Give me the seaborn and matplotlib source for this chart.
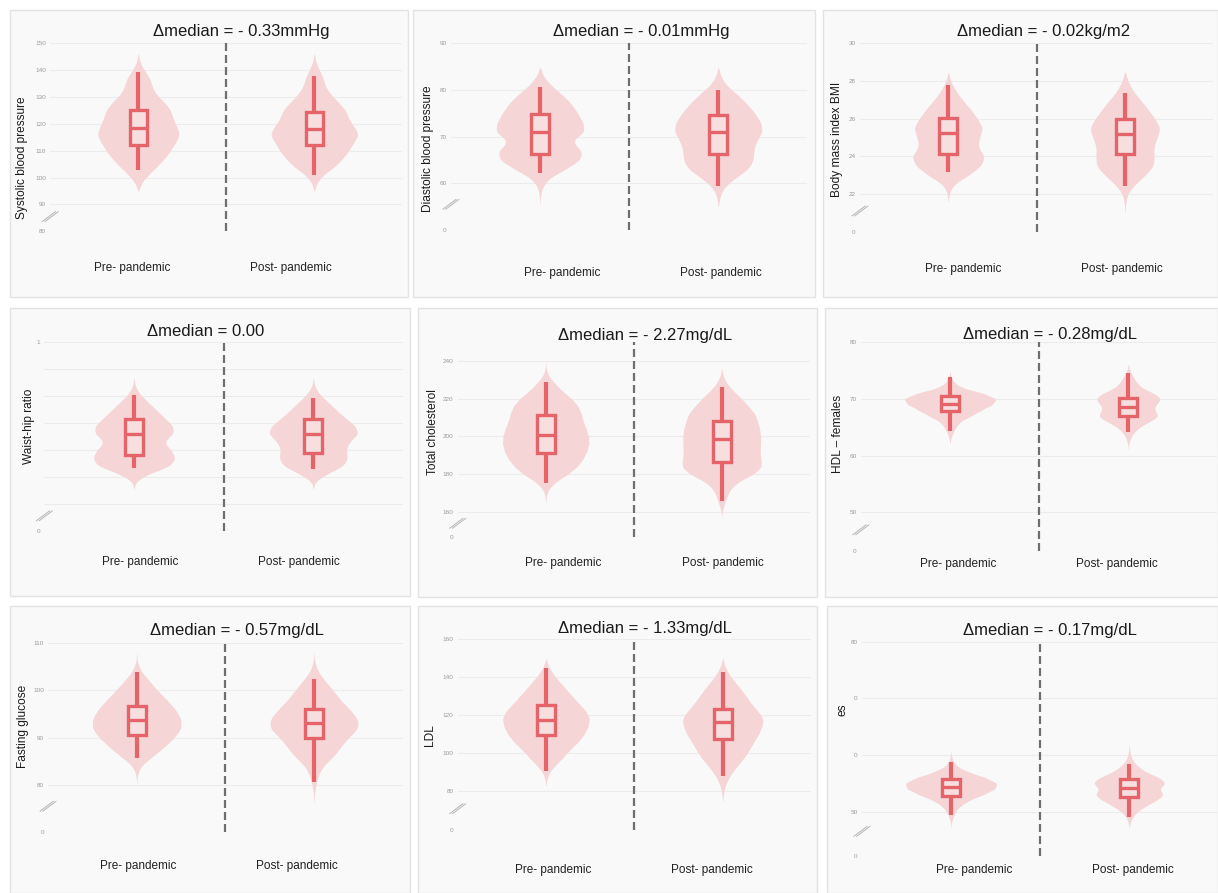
import numpy as np
import pandas as pd
import matplotlib
matplotlib.use("Agg")
import matplotlib.pyplot as plt
import seaborn as sns
from matplotlib.patches import Rectangle
from matplotlib.lines import Line2D

# Categories
groups = ["Pre- pandemic", "Post- pandemic"]

# Systolic blood pressure: value levels and estimated counts per level
sbp_levels = [98, 101, 104, 107, 110, 113, 116, 119, 122, 125, 128, 131, 134, 137, 140, 143]
sbp_pre = [8, 28, 52, 75, 92, 106, 120, 110, 98, 94, 75, 50, 38, 34, 16, 4]
sbp_post = [6, 24, 58, 80, 98, 110, 128, 112, 96, 90, 68, 46, 30, 26, 14, 4]
# box stats: whisker low, q1, median, q3, whisker high
sbp_pre_box = [102.9, 112.2, 118.4, 125.2, 139.5]
sbp_post_box = [100.8, 112.2, 118.2, 124.3, 137.9]

# Diastolic blood pressure
dbp_levels = [57, 59, 61, 63, 65, 67, 69, 71, 73, 75, 77, 79, 81, 83]
dbp_pre = [1, 5, 22, 70, 114, 118, 84, 126, 120, 105, 88, 62, 30, 8]
dbp_post = [4, 14, 45, 86, 100, 100, 108, 126, 122, 104, 82, 55, 22, 6]
dbp_pre_box = [62.2, 66.3, 71.0, 74.8, 80.7]
dbp_post_box = [59.4, 66.2, 71.0, 74.6, 80.0]

# Body mass index
bmi_levels = [21.5, 22.0, 22.5, 23.0, 23.5, 24.0, 24.5, 25.0, 25.5, 26.0, 26.5, 27.0, 27.5, 28.0]
bmi_pre = [0, 2, 14, 62, 100, 112, 88, 94, 106, 88, 68, 42, 22, 6]
bmi_post = [2, 6, 28, 60, 86, 86, 84, 95, 106, 88, 68, 45, 22, 8]
bmi_pre_box = [23.16, 24.13, 25.26, 26.02, 27.79]
bmi_post_box = [22.4, 24.1, 25.2, 26.0, 27.35]

# Waist-hip ratio
whr_levels = [0.740, 0.755, 0.770, 0.785, 0.800, 0.815, 0.830, 0.845, 0.860, 0.875, 0.890, 0.905, 0.920]
whr_pre = [2, 40, 112, 124, 110, 84, 120, 116, 88, 64, 38, 14, 2]
whr_post = [2, 36, 86, 96, 90, 100, 128, 116, 86, 62, 38, 14, 2]
whr_pre_box = [0.767, 0.791, 0.830, 0.856, 0.902]
whr_post_box = [0.765, 0.793, 0.830, 0.856, 0.896]

# Total cholesterol
tc_levels = [160, 164, 168, 172, 176, 180, 184, 188, 192, 196, 200, 204, 208, 212, 216, 220, 224, 228, 232, 236]
tc_pre = [0, 0, 1, 8, 30, 68, 95, 112, 124, 130, 129, 122, 112, 107, 98, 78, 50, 28, 8, 1]
tc_post = [1, 8, 16, 26, 50, 100, 125, 120, 118, 119, 120, 117, 110, 103, 82, 62, 36, 16, 4, 0]
tc_pre_box = [175.5, 191.1, 200.8, 211.4, 228.7]
tc_post_box = [166.0, 186.6, 198.5, 208.4, 226.4]

# HDL - females
hdlf_levels = [62, 63, 64, 65, 66, 67, 68, 69, 70, 71, 72, 73, 74, 75, 76]
hdlf_pre = [0, 2, 8, 16, 28, 60, 88, 120, 134, 96, 32, 10, 2, 0, 0]
hdlf_post = [1, 6, 16, 34, 68, 106, 82, 88, 112, 86, 40, 26, 15, 4, 0]
hdlf_pre_box = [64.4, 67.8, 69.1, 70.5, 73.8]
hdlf_post_box = [64.1, 67.0, 68.55, 70.25, 74.5]

# Fasting glucose
glu_levels = [78, 80, 82, 84, 86, 88, 90, 92, 94, 96, 98, 100, 102, 104, 106]
glu_pre = [0, 0, 1, 10, 44, 76, 104, 124, 122, 106, 82, 56, 34, 11, 1]
glu_post = [1, 5, 12, 24, 56, 75, 96, 128, 124, 100, 72, 54, 30, 10, 1]
glu_pre_box = [85.7, 90.6, 93.7, 96.7, 103.9]
glu_post_box = [80.6, 90.0, 93.0, 96.1, 102.3]

# LDL
ldl_levels = [78, 82, 86, 90, 94, 98, 102, 106, 110, 114, 118, 122, 126, 130, 134, 138, 142, 146, 150]
ldl_pre = [0, 0, 2, 10, 30, 52, 72, 96, 114, 125, 130, 120, 98, 78, 58, 38, 20, 6, 0]
ldl_post = [2, 6, 16, 30, 50, 70, 85, 98, 114, 124, 130, 112, 90, 74, 56, 36, 18, 6, 0]
ldl_pre_box = [90.8, 109.6, 117.5, 125.4, 144.7]
ldl_post_box = [88.1, 107.5, 116.2, 123.3, 142.6]

# HDL - males (label clipped in the source)
hdlm_levels = [47, 48, 49, 50, 51, 52, 53, 54, 55, 56, 57, 58, 59, 60, 61, 62]
hdlm_pre = [0, 1, 6, 13, 26, 52, 92, 126, 132, 98, 48, 16, 5, 1, 0, 0]
hdlm_post = [0, 2, 10, 24, 52, 85, 112, 88, 118, 94, 50, 26, 10, 4, 1, 0]
hdlm_pre_box = [49.4, 52.8, 54.4, 55.7, 58.8]
hdlm_post_box = [49.1, 52.6, 54.1, 55.7, 58.4]

titles = ["\u0394median = - 0.33mmHg", "\u0394median = - 0.01mmHg", "\u0394median = - 0.02kg/m2",
          "\u0394median = 0.00", "\u0394median = - 2.27mg/dL", "\u0394median = - 0.28mg/dL",
          "\u0394median = - 0.57mg/dL", "\u0394median = - 1.33mg/dL", "\u0394median = - 0.17mg/dL"]
ylabels = ["Systolic blood pressure", "Diastolic blood pressure", "Body mass index BMI",
           "Waist-hip ratio", "Total cholesterol", "HDL \u2013 females",
           "Fasting glucose", "LDL", "es"]

# y axis ticks (lowest tick sits below the axis break)
yticks = [[80, 90, 100, 110, 120, 130, 140, 150],
          [50, 60, 70, 80, 90],
          [20, 22, 24, 26, 28, 30],
          [0.65, 0.70, 0.75, 0.80, 0.85, 0.90, 0.95, 1.0],
          [146.5, 160, 180, 200, 220, 240],
          [43.2, 50, 60, 70, 80],
          [70, 80, 90, 100, 110],
          [59.3, 80, 100, 120, 140, 160],
          [42.2, 50, 60, 70, 80]]
yticklabels = [["80", "90", "100", "110", "120", "130", "140", "150"],
               ["0", "60", "70", "80", "90"],
               ["0", "22", "24", "26", "28", "30"],
               ["0", "", "", "", "", "", "", "1"],
               ["0", "160", "180", "200", "220", "240"],
               ["0", "50", "60", "70", "80"],
               ["0", "80", "90", "100", "110"],
               ["0", "80", "100", "120", "140", "160"],
               ["0", "50", "0", "0", "80"]]
ytops = [150, 90, 30, 1.0, 250, 80, 110, 160, 80]

data = [(sbp_levels, sbp_pre, sbp_post, sbp_pre_box, sbp_post_box),
        (dbp_levels, dbp_pre, dbp_post, dbp_pre_box, dbp_post_box),
        (bmi_levels, bmi_pre, bmi_post, bmi_pre_box, bmi_post_box),
        (whr_levels, whr_pre, whr_post, whr_pre_box, whr_post_box),
        (tc_levels, tc_pre, tc_post, tc_pre_box, tc_post_box),
        (hdlf_levels, hdlf_pre, hdlf_post, hdlf_pre_box, hdlf_post_box),
        (glu_levels, glu_pre, glu_post, glu_pre_box, glu_post_box),
        (ldl_levels, ldl_pre, ldl_post, ldl_pre_box, ldl_post_box),
        (hdlm_levels, hdlm_pre, hdlm_post, hdlm_pre_box, hdlm_post_box)]

# layout in pixels: frame, group centres, axis top/bottom, ylabel xy, title xy,
# xlabel xs & y, violin width, kde bandwidth adjust
layout = [
    dict(frame=(10, 10, 408, 297), cx=(138.3, 314.3), ty=(43.3, 231.3), yl=(21.7, 158), tt=(153.3, 31.7), xl=((132, 291), 268), w=0.49, bw=0.8),
    dict(frame=(413, 10, 815, 297), cx=(540, 718.3), ty=(43.3, 230), yl=(428, 149), tt=(553.3, 31.7), xl=((562, 720.5), 273), w=0.49, bw=0.85),
    dict(frame=(823, 10, 1218, 297), cx=(948.3, 1125), ty=(43.3, 231.7), yl=(837, 139), tt=(956.7, 31.7), xl=((963, 1121.7), 269), w=0.40, bw=0.85),
    dict(frame=(10, 308, 410, 596), cx=(134, 313.3), ty=(341.7, 530.7), yl=(29, 426), tt=(146.7, 331.7), xl=((140, 299), 561.7), w=0.49, bw=0.9),
    dict(frame=(418, 308, 817, 597), cx=(545.7, 721.7), ty=(342.1, 537.3), yl=(433, 431.7), tt=(558.3, 335.7), xl=((563, 722.5), 563.3), w=0.49, bw=0.7),
    dict(frame=(825, 308, 1218, 597), cx=(950, 1128.3), ty=(342.3, 551), yl=(838, 433.8), tt=(963.3, 335), xl=((958, 1116.7), 564.3), w=0.51, bw=1.0),
    dict(frame=(10, 606, 410, 893), cx=(136.7, 314), ty=(642.7, 832.3), yl=(23, 726), tt=(150, 631), xl=((137.7, 296.7), 866), w=0.50, bw=1.0),
    dict(frame=(418, 606, 817, 893), cx=(546, 722.7), ty=(639.3, 830.3), yl=(430, 735), tt=(558.3, 629), xl=((553, 711.7), 870), w=0.49, bw=0.75),
    dict(frame=(827, 606, 1218, 893), cx=(951, 1129.3), ty=(641.7, 855.7), yl=(843, 710), tt=(963.3, 631), xl=((974, 1133), 870), w=0.51, bw=1.0),
]

PINK = "#f5d5d6"
BOXFACE = "#f7dfdf"
RED = "#e5646a"

sns.set_theme(style="white")
plt.rcParams['font.family'] = ['Liberation Sans', 'DejaVu Sans']

W, H = 1218, 893
fig = plt.figure(figsize=(W / 100, H / 100), dpi=100)
fig.patch.set_facecolor("white")


def fx(x):
    return x / W


def fy(y):
    return 1 - y / H


for i in range(9):
    levels, pre, post, pre_box, post_box = data[i]
    lay = layout[i]

    # panel card
    x0, y0, x1, y1 = lay["frame"]
    fig.patches.append(Rectangle((fx(x0), fy(y1)), (x1 - x0) / W, (y1 - y0) / H,
                                 transform=fig.transFigure, facecolor="#f9f9f9",
                                 edgecolor="#e3e3e3", linewidth=1, zorder=-1))

    cp, cq = lay["cx"]
    s = cq - cp
    left, right = cp - 0.5 * s, cq + 0.5 * s
    top, bottom = lay["ty"]
    ax = fig.add_axes([fx(left), fy(bottom), (right - left) / W, (bottom - top) / H])
    ax.set_facecolor("none")

    df = pd.DataFrame({
        "group": np.repeat(groups, [sum(pre), sum(post)]),
        "value": np.concatenate([np.repeat(levels, pre), np.repeat(levels, post)]),
    })
    sns.violinplot(data=df, x="group", y="value", order=groups, color=PINK, saturation=1,
                   inner=None, linewidth=0, density_norm="area", width=lay["w"],
                   cut=1.5, bw_adjust=lay["bw"], ax=ax)

    stats = [dict(whislo=b[0], q1=b[1], med=b[2], q3=b[3], whishi=b[4], fliers=[])
             for b in (pre_box, post_box)]
    ax.bxp(stats, positions=[0, 1], widths=0.1, patch_artist=True, showcaps=False,
           showfliers=False, manage_ticks=False,
           boxprops=dict(facecolor=BOXFACE, edgecolor=RED, linewidth=2.4),
           whiskerprops=dict(color=RED, linewidth=3, solid_capstyle="butt"),
           medianprops=dict(color=RED, linewidth=2.4, solid_capstyle="butt"),
           zorder=3)

    ax.axvline(0.5, color="#6f6f6f", linestyle=(0, (3.6, 1.8)), linewidth=1.6, zorder=2)

    ax.set_xlim(-0.5, 1.5)
    ax.set_ylim(yticks[i][0], ytops[i])
    ax.set_yticks(yticks[i], yticklabels[i])
    ax.set_xticks([])
    ax.set_xlabel("")
    ax.set_ylabel("")
    ax.tick_params(axis="y", length=0, labelsize=4.6, labelcolor="#9a9a9a", pad=3)
    ax.grid(axis="y", color="#ececec", linewidth=0.8)
    ax.set_axisbelow(True)
    for sp in ax.spines.values():
        sp.set_visible(False)

    # axis break marks
    lo, t1 = yticks[i][0], yticks[i][1]
    cx_d, cy_d = ax.transData.transform((-0.5, lo + 0.55 * (t1 - lo)))
    for off in (-1.4, 1.4):
        fig.add_artist(Line2D([(cx_d - 6.7 + off) / W, (cx_d + 6.7 + off) / W],
                              [(cy_d - 5) / H, (cy_d + 5) / H],
                              transform=fig.transFigure, color="#b5b5b5", linewidth=0.7))

    # texts
    fig.text(fx(lay["tt"][0]), fy(lay["tt"][1]), titles[i], ha="left", va="center",
             fontsize=12, color="#1a1a1a")
    fig.text(fx(lay["yl"][0]), fy(lay["yl"][1]), ylabels[i], rotation=90, ha="center",
             va="center", fontsize=8.6, color="#1a1a1a")
    for g, gx in zip(groups, lay["xl"][0]):
        fig.text(fx(gx), fy(lay["xl"][1]), g, ha="center", va="center", fontsize=8.5,
                 color="#222222")

fig.savefig("out.png", dpi=100, facecolor="white")
